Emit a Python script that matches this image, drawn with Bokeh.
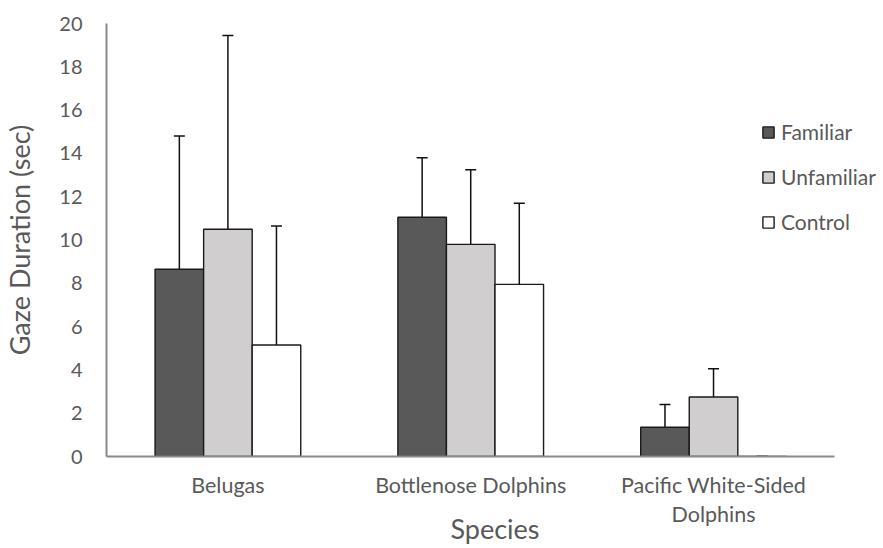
from bokeh.plotting import figure
from bokeh.models import (ColumnDataSource, Range1d, Whisker, Legend, LegendItem,
                          FixedTicker, TeeHead)
from bokeh.transform import dodge
from bokeh.embed import file_html
from bokeh.resources import INLINE

species = ["Belugas", "Bottlenose Dolphins", "Pacific White-Sided Dolphins"]
species_labels = ["Belugas", "Bottlenose Dolphins", "Pacific White-Sided\nDolphins"]
conditions = ["Familiar", "Unfamiliar", "Control"]
familiar = [8.65, 11.05, 1.35]
unfamiliar = [10.5, 9.8, 2.75]
control = [5.15, 7.95, 0.0]
familiar_upper = [14.8, 13.8, 2.4]
familiar_lower = [7.6, 10.0, 0.35]
unfamiliar_upper = [19.45, 13.25, 4.05]
unfamiliar_lower = [9.55, 8.8, 1.7]
control_upper = [10.65, 11.7, 0.0]
control_lower = [4.15, 6.9, 0.0]
y_ticks = [0, 2, 4, 6, 8, 10, 12, 14, 16, 18, 20]

FONT = "Lato"
TXT = "#595959"
AXIS = "#8a8a8a"
colors = ["#595959", "#d0cece", "#ffffff"]

# category centre positions on a linear axis (one unit per category)
pos = [i + 0.5 for i in range(len(species))]

source = ColumnDataSource(dict(
    species=species, pos=pos,
    Familiar=familiar, Unfamiliar=unfamiliar, Control=control,
    Familiar_up=familiar_upper, Familiar_lo=familiar_lower,
    Unfamiliar_up=unfamiliar_upper, Unfamiliar_lo=unfamiliar_lower,
    Control_up=control_upper, Control_lo=control_lower,
))

p = figure(x_range=Range1d(0, 3.2), y_range=Range1d(0, 20),
           width=883, height=548, output_backend="svg", toolbar_location=None,
           min_border_left=106, min_border_right=0, min_border_top=23, min_border_bottom=91)
p.outline_line_color = None
p.grid.visible = False
p.background_fill_color = "white"

offsets = [-0.2, 0.0, 0.2]
renderers = []
for cond, off, col in zip(conditions, offsets, colors):
    r = p.vbar(x=dodge("pos", off), top=cond, width=0.2,
               source=source, fill_color=col, line_color="#1a1a1a", line_width=1.4)
    renderers.append(r)
for cond, off in zip(conditions, offsets):
    w = Whisker(base=dodge("pos", off), upper=cond + "_up",
                lower=cond + "_lo", source=source, line_color="#111111", line_width=1.5,
                upper_head=TeeHead(size=11, line_color="#111111", line_width=1.5),
                lower_head=TeeHead(size=11, line_color="#111111", line_width=1.5))
    p.add_layout(w)

# axes
p.yaxis.ticker = FixedTicker(ticks=y_ticks)
p.xaxis.ticker = FixedTicker(ticks=pos)
p.xaxis.major_label_overrides = {x: lab for x, lab in zip(pos, species_labels)}
p.xaxis.bounds = (0, len(species))
for ax in (p.xaxis[0], p.yaxis[0]):
    ax.axis_line_color = AXIS
    ax.axis_line_width = 2
    ax.major_tick_line_color = None
    ax.minor_tick_line_color = None
    ax.major_tick_out = 0
    ax.major_tick_in = 0
    ax.minor_tick_out = 0
    ax.minor_tick_in = 0
    ax.major_label_text_font = FONT
    ax.major_label_text_color = TXT
    ax.axis_label_text_font = FONT
    ax.axis_label_text_font_size = "27px"
    ax.axis_label_text_font_style = "normal"
    ax.axis_label_text_color = TXT

p.yaxis.major_label_text_font_size = "20px"
p.xaxis.major_label_text_font_size = "21.5px"

p.yaxis.axis_label = "Gaze Duration (sec)"
p.yaxis.major_label_standoff = 24
p.yaxis.axis_label_standoff = 20

p.xaxis.axis_label = "Species"
p.xaxis.major_label_standoff = 15
p.xaxis.axis_label_standoff = -18
p.xaxis.major_label_text_line_height = 1.15

legend = Legend(items=[LegendItem(label=c, renderers=[r]) for c, r in zip(conditions, renderers)],
                location=(655, 222), orientation="vertical",
                border_line_color=None, background_fill_alpha=0,
                padding=0, margin=0, spacing=20,
                glyph_width=14, glyph_height=14, label_standoff=6,
                label_text_font=FONT, label_text_font_size="21px", label_text_color=TXT)
p.add_layout(legend)

open("out.html", "w").write(file_html(p, INLINE))
